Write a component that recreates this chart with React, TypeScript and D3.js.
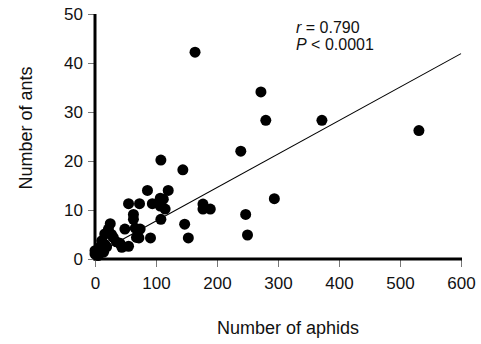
import * as d3 from 'd3';
import { useEffect, useRef } from 'react';

// aphid counts (x) and ant counts (y)
const APHIDS = [
    0, 0, 3, 5, 8, 11, 14, 16, 16, 19, 22, 25, 27, 30, 35, 41, 44, 49, 55, 55, 63, 63, 66, 68, 72,
    74, 73, 86, 91, 94, 107, 108, 107, 108, 112, 115, 120, 144, 147, 153, 164, 177, 177, 189, 239,
    247, 250, 272, 280, 294, 372, 531,
];
const ANTS = [
    1, 1.7, 1.5, 0.7, 2.4, 3.7, 1.4, 3, 5.1, 2.5, 6.1, 7.2, 5, 4.4, 3.5, 3.2, 2.4, 6.1, 2.6, 11.3,
    9.1, 8.1, 6.3, 4.4, 4.3, 6.1, 11.3, 14, 4.3, 11.3, 12.4, 20.2, 10.8, 8.1, 12.2, 10.2, 14, 18.2,
    7.1, 4.3, 42.2, 11.2, 10.2, 10.2, 22, 9.1, 4.9, 34.1, 28.3, 12.3, 28.3, 26.2,
];

// fitted line y = a + b x
const FIT_INTERCEPT = 0.93;
const FIT_SLOPE = 0.0683;

const X_TICKS = [0, 100, 200, 300, 400, 500, 600];
const Y_TICKS = [0, 10, 20, 30, 40, 50];

const FONT = '"Liberation Sans", Arial, Helvetica, sans-serif';

export default function App() {
    const svgRef = useRef<SVGSVGElement | null>(null);

    useEffect(() => {
        if (!svgRef.current) {
            return;
        }
        const svg = d3.select(svgRef.current);
        svg.selectAll('*').remove();

        const x = d3.scaleLinear().domain([0, 600]).range([95, 461]);
        const y = d3.scaleLinear().domain([0, 50]).range([259, 14]);

        const g = svg.append('g').attr('font-family', FONT);

        // fit line
        g.append('line')
            .attr('x1', x(0))
            .attr('y1', y(FIT_INTERCEPT))
            .attr('x2', x(600))
            .attr('y2', y(FIT_INTERCEPT + FIT_SLOPE * 600))
            .attr('stroke', '#000')
            .attr('stroke-width', 1.1);

        // points
        g.append('g')
            .selectAll('circle')
            .data(APHIDS.map((a, i) => [a, ANTS[i]]))
            .join('circle')
            .attr('cx', (d) => x(d[0]))
            .attr('cy', (d) => y(d[1]))
            .attr('r', 5.5)
            .attr('fill', '#000');

        // y axis
        const yAxis = g
            .append('g')
            .attr('transform', `translate(${x(0)},0)`)
            .call(d3.axisLeft(y).tickValues(Y_TICKS).tickSize(7).tickPadding(5));
        yAxis.select('.domain').remove();
        yAxis.selectAll('.tick line').attr('stroke', '#777');
        yAxis.selectAll('.tick text').attr('font-size', 17).attr('fill', '#111').attr('font-family', FONT);
        g.append('line')
            .attr('x1', x(0))
            .attr('x2', x(0))
            .attr('y1', y(50))
            .attr('y2', y(0) + 1.5)
            .attr('stroke', '#000')
            .attr('stroke-width', 3);

        // x axis
        const xAxis = g
            .append('g')
            .attr('transform', `translate(0,${y(0)})`)
            .call(d3.axisBottom(x).tickValues(X_TICKS).tickSize(8).tickPadding(10));
        xAxis.select('.domain').remove();
        xAxis.selectAll('.tick line').attr('stroke', '#777');
        xAxis.selectAll('.tick text').attr('font-size', 17).attr('fill', '#111').attr('font-family', FONT);
        g.append('line')
            .attr('x1', x(0) - 1.5)
            .attr('x2', x(600) + 1)
            .attr('y1', y(0))
            .attr('y2', y(0))
            .attr('stroke', '#000')
            .attr('stroke-width', 3);

        // axis titles
        g.append('text')
            .attr('transform', 'translate(26,128) rotate(-90)')
            .attr('text-anchor', 'middle')
            .attr('dy', '0.35em')
            .attr('font-size', 18)
            .attr('fill', '#111')
            .text('Number of ants');

        g.append('text')
            .attr('x', 288)
            .attr('y', 334)
            .attr('text-anchor', 'middle')
            .attr('font-size', 18)
            .attr('fill', '#111')
            .text('Number of aphids');

        // stats
        const r = g.append('text').attr('x', 296).attr('y', 33).attr('font-size', 16).attr('fill', '#111');
        r.append('tspan').attr('font-style', 'italic').text('r');
        r.append('tspan').text(' = 0.790');
        const p = g.append('text').attr('x', 296).attr('y', 50).attr('font-size', 16).attr('fill', '#111');
        p.append('tspan').attr('font-style', 'italic').text('P');
        p.append('tspan').text(' < 0.0001');
    }, []);

    return (
        <div style={{ position: 'fixed', left: 0, top: 0, background: '#fff' }}>
            <svg ref={svgRef} width={481} height={344} style={{ display: 'block' }} />
        </div>
    );
}
